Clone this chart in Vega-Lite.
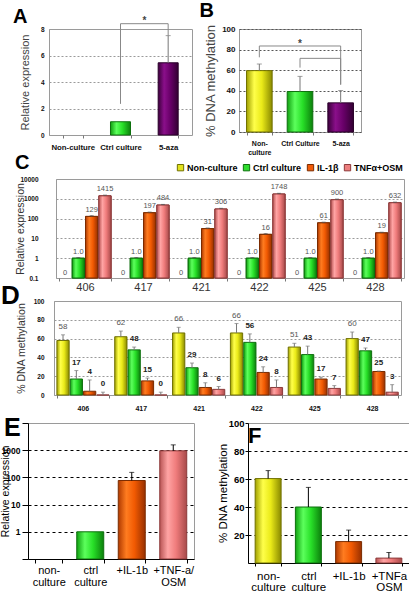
{
"$schema": "https://vega.github.io/schema/vega-lite/v6.json",
"padding": 0,
"background": "white",
"spacing": -11,
"resolve": {"scale": {"fill": "independent", "stroke": "independent"}},
"config": {
 "font": "Liberation Sans",
 "view": {"stroke": "#9a9a9a", "strokeWidth": 1},
 "axis": {"labelFont": "Liberation Sans", "titleFont": "Liberation Sans", "titleFontWeight": "normal", "labelColor": "#111", "titleColor": "#333", "domainColor": "#9a9a9a", "tickColor": "#777", "gridColor": "#9a9a9a", "gridDash": [2, 2], "gridOpacity": 1, "labelOverlap": false, "tickCount": 20},
 "title": {"font": "Liberation Sans", "fontWeight": "bold", "anchor": "start", "frame": "group", "color": "#000"},
 "legend": {"labelFont": "Liberation Sans"}
},
"datasets": {
 "none": [],
 "a": [{"g": "Non-culture", "v": 0}, {"g": "Ctrl culture", "v": 1}, {"g": "5-aza", "v": 5.45, "e": 7.5}],
 "aBracket": [{"g": "Ctrl culture", "y": 2.35, "o": 1}, {"g": "Ctrl culture", "y": 8.4, "o": 2}, {"g": "5-aza", "y": 8.4, "o": 3}, {"g": "5-aza", "y": 7.5, "o": 4}],
 "aStar": [{"g": "Ctrl culture", "y": 8.6, "t": "*"}],
 "b": [{"g": "Non-culture", "v": 59.6, "e": 66}, {"g": "Ctrl Culture", "v": 39.3, "e": 54}, {"g": "5-aza", "v": 28.3, "e": 40.3}],
 "bBracket": [
  {"k": "outer", "g": "Non-culture", "y": 72.5, "o": 1}, {"k": "outer", "g": "Non-culture", "y": 83.5, "o": 2}, {"k": "outer", "g": "5-aza", "y": 83.5, "o": 3}, {"k": "outer", "g": "5-aza", "y": 46, "o": 4},
  {"k": "inner", "g": "Ctrl Culture", "y": 62.5, "o": 1}, {"k": "inner", "g": "Ctrl Culture", "y": 71.5, "o": 2}, {"k": "inner", "g": "5-aza", "y": 71.5, "o": 3}, {"k": "inner", "g": "5-aza", "y": 46, "o": 4}
 ],
 "bStar": [{"g": "Ctrl Culture", "y": 85, "t": "*"}],
 "c": [
  {"s": "406", "t": "Non-culture", "v": 0, "lab": "0"}, {"s": "406", "t": "Ctrl culture", "v": 1, "e": 1.08, "lab": "1.0"}, {"s": "406", "t": "IL-1β", "v": 129, "e": 140, "lab": "129"}, {"s": "406", "t": "TNFα+OSM", "v": 1415, "e": 1530, "lab": "1415"},
  {"s": "417", "t": "Non-culture", "v": 0, "lab": "0"}, {"s": "417", "t": "Ctrl culture", "v": 1, "e": 1.08, "lab": "1.0"}, {"s": "417", "t": "IL-1β", "v": 197, "e": 213, "lab": "197"}, {"s": "417", "t": "TNFα+OSM", "v": 484, "e": 520, "lab": "484"},
  {"s": "421", "t": "Non-culture", "v": 0, "lab": "0"}, {"s": "421", "t": "Ctrl culture", "v": 1, "e": 1.08, "lab": "1.0"}, {"s": "421", "t": "IL-1β", "v": 31, "e": 33.5, "lab": "31"}, {"s": "421", "t": "TNFα+OSM", "v": 306, "e": 330, "lab": "306"},
  {"s": "422", "t": "Non-culture", "v": 0, "lab": "0"}, {"s": "422", "t": "Ctrl culture", "v": 1, "e": 1.08, "lab": "1.0"}, {"s": "422", "t": "IL-1β", "v": 16, "e": 17.3, "lab": "16"}, {"s": "422", "t": "TNFα+OSM", "v": 1748, "e": 1890, "lab": "1748"},
  {"s": "425", "t": "Non-culture", "v": 0, "lab": "0"}, {"s": "425", "t": "Ctrl culture", "v": 1, "e": 1.08, "lab": "1.0"}, {"s": "425", "t": "IL-1β", "v": 61, "e": 66, "lab": "61"}, {"s": "425", "t": "TNFα+OSM", "v": 900, "e": 970, "lab": "900"},
  {"s": "428", "t": "Non-culture", "v": 0, "lab": "0"}, {"s": "428", "t": "Ctrl culture", "v": 1, "e": 1.08, "lab": "1.0"}, {"s": "428", "t": "IL-1β", "v": 19, "e": 20.5, "lab": "19"}, {"s": "428", "t": "TNFα+OSM", "v": 632, "e": 680, "lab": "632"}
 ],
 "d": [
  {"s": "406", "t": "Non-culture", "v": 58, "e": 64}, {"s": "406", "t": "Ctrl culture", "v": 17, "e": 26}, {"s": "406", "t": "IL-1β", "v": 4, "e": 16}, {"s": "406", "t": "TNFα+OSM", "v": 0, "e": 3},
  {"s": "417", "t": "Non-culture", "v": 62, "e": 68}, {"s": "417", "t": "Ctrl culture", "v": 48, "e": 51}, {"s": "417", "t": "IL-1β", "v": 15, "e": 18}, {"s": "417", "t": "TNFα+OSM", "v": 0, "e": 3},
  {"s": "421", "t": "Non-culture", "v": 66, "e": 72}, {"s": "421", "t": "Ctrl culture", "v": 29, "e": 34}, {"s": "421", "t": "IL-1β", "v": 8, "e": 13}, {"s": "421", "t": "TNFα+OSM", "v": 6, "e": 9},
  {"s": "422", "t": "Non-culture", "v": 66, "e": 76}, {"s": "422", "t": "Ctrl culture", "v": 56, "e": 65}, {"s": "422", "t": "IL-1β", "v": 24, "e": 30}, {"s": "422", "t": "TNFα+OSM", "v": 8, "e": 16},
  {"s": "425", "t": "Non-culture", "v": 51, "e": 55}, {"s": "425", "t": "Ctrl culture", "v": 43, "e": 52}, {"s": "425", "t": "IL-1β", "v": 17, "e": 19}, {"s": "425", "t": "TNFα+OSM", "v": 7, "e": 10},
  {"s": "428", "t": "Non-culture", "v": 60, "e": 67}, {"s": "428", "t": "Ctrl culture", "v": 47, "e": 50}, {"s": "428", "t": "IL-1β", "v": 25, "e": 25.5}, {"s": "428", "t": "TNFα+OSM", "v": 3, "e": 11}
 ],
 "e": [{"g": "non-culture", "v": 0}, {"g": "ctrl culture", "v": 1}, {"g": "+IL-1b", "v": 77, "e": 153}, {"g": "+TNF-a/OSM", "v": 950, "e": 1570}],
 "f": [{"g": "non-culture", "v": 60.3, "e": 66}, {"g": "ctrl culture", "v": 40, "e": 54}, {"g": "+IL-1b", "v": 15.3, "e": 23.5}, {"g": "+TNFa OSM", "v": 3.5, "e": 7.5}]
},
"vconcat": [
 {"bounds": "flush", "spacing": 47, "resolve": {"scale": {"fill": "independent", "stroke": "independent"}}, "hconcat": [
  {"width": 1, "height": 1, "view": {"stroke": null}, "data": {"name": "none"}, "mark": "point"},
  {
   "width": 143, "height": 106,
   "title": {"text": "A", "fontSize": 20, "dx": -36, "offset": -10.45},
   "encoding": {"x": {"field": "g", "type": "nominal", "title": null, "scale": {"domain": ["Non-culture", "Ctrl culture", "5-aza"], "paddingInner": 0.58, "paddingOuter": 0.29}, "axis": {"labelAngle": 0, "labelFontSize": 7.8, "labelFontWeight": "bold", "tickBand": "extent", "tickSize": 3, "labelPadding": 5, "domain": false}}},
   "layer": [
    {"data": {"name": "a"}, "transform": [{"filter": "datum.v > 0"}], "mark": {"type": "bar", "strokeWidth": 1},
     "encoding": {
      "y": {"field": "v", "type": "quantitative", "title": "Relative expression", "scale": {"domain": [0, 8]}, "axis": {"values": [0, 2, 4, 6, 8], "format": "d", "labelFontSize": 6.5, "labelFontWeight": "bold", "ticks": false, "labelPadding": 5, "domain": false, "titleFontSize": 11, "titlePadding": 10, "titleColor": "#444"}},
      "fill": {"condition": [
        {"test": "datum.g == 'Ctrl culture'", "value": {"gradient": "linear", "x1": 0, "x2": 1, "y1": 0, "y2": 0, "stops": [{"offset": 0, "color": "#10a010"}, {"offset": 0.3, "color": "#5cff5c"}, {"offset": 0.6, "color": "#28e028"}, {"offset": 1, "color": "#0c800c"}]}},
        {"test": "datum.g == '5-aza'", "value": {"gradient": "linear", "x1": 0, "x2": 1, "y1": 0, "y2": 0, "stops": [{"offset": 0, "color": "#3c003c"}, {"offset": 0.3, "color": "#8a0f8a"}, {"offset": 0.6, "color": "#690069"}, {"offset": 1, "color": "#320032"}]}}
       ], "value": "#e2e21e"},
      "stroke": {"field": "g", "type": "nominal", "scale": {"domain": ["Non-culture", "Ctrl culture", "5-aza"], "range": ["#707000", "#0e700e", "#2a002a"]}, "legend": null}
     }},
    {"data": {"name": "a"}, "transform": [{"filter": "isValid(datum.e)"}], "mark": {"type": "rule", "color": "#777"}, "encoding": {"y": {"field": "v", "type": "quantitative", "title": "Relative expression"}, "y2": {"field": "e"}}},
    {"data": {"name": "a"}, "transform": [{"filter": "isValid(datum.e)"}], "mark": {"type": "tick", "color": "#777", "size": 5, "thickness": 1}, "encoding": {"y": {"field": "e", "type": "quantitative", "title": "Relative expression"}}},
    {"data": {"name": "aBracket"}, "mark": {"type": "line", "color": "#888", "strokeWidth": 1}, "encoding": {"y": {"field": "y", "type": "quantitative", "title": "Relative expression"}, "order": {"field": "o", "type": "quantitative"}}},
    {"data": {"name": "aStar"}, "mark": {"type": "text", "baseline": "middle", "fontSize": 10, "fontWeight": "bold", "color": "#444"}, "encoding": {"x": {"field": "g", "type": "nominal", "title": null, "bandPosition": 1.7}, "y": {"field": "y", "type": "quantitative", "title": "Relative expression"}, "text": {"field": "t"}}}
   ]
  },
  {
   "width": 122, "height": 103,
   "title": {"text": "B", "fontSize": 20, "dx": -39.5, "offset": 3},
   "encoding": {"x": {"field": "g", "type": "nominal", "title": "\u200b", "scale": {"domain": ["Non-culture", "Ctrl Culture", "5-aza"], "paddingInner": 0.37, "paddingOuter": 0.185}, "axis": {"titleFontSize": 7, "titlePadding": 0, "labelAngle": 0, "labelFontSize": 7, "labelFontWeight": "bold", "labelExpr": "datum.label == 'Non-culture' ? ['Non-', 'culture'] : datum.label", "labelLineHeight": 9, "tickBand": "extent", "tickSize": 3, "labelPadding": 4.5, "domain": false}}},
   "layer": [
    {"data": {"name": "b"}, "mark": {"type": "bar", "strokeWidth": 1},
     "encoding": {
      "y": {"field": "v", "type": "quantitative", "title": "% DNA methylation", "scale": {"domain": [0, 100]}, "axis": {"values": [0, 20, 40, 60, 80, 100], "format": "d", "labelFontSize": 8, "labelFontWeight": "bold", "ticks": false, "labelPadding": 4, "domain": false, "titleFontSize": 13, "titlePadding": 3.7, "titleColor": "#444", "gridColor": "#555"}},
      "fill": {"condition": [
        {"test": "datum.g == 'Non-culture'", "value": {"gradient": "linear", "x1": 0, "x2": 1, "y1": 0, "y2": 0, "stops": [{"offset": 0, "color": "#a0a000"}, {"offset": 0.3, "color": "#ffff4a"}, {"offset": 0.6, "color": "#eaea18"}, {"offset": 1, "color": "#8a8a00"}]}},
        {"test": "datum.g == 'Ctrl Culture'", "value": {"gradient": "linear", "x1": 0, "x2": 1, "y1": 0, "y2": 0, "stops": [{"offset": 0, "color": "#10a010"}, {"offset": 0.3, "color": "#5cff5c"}, {"offset": 0.6, "color": "#28e028"}, {"offset": 1, "color": "#0c800c"}]}}
       ], "value": {"gradient": "linear", "x1": 0, "x2": 1, "y1": 0, "y2": 0, "stops": [{"offset": 0, "color": "#3c003c"}, {"offset": 0.3, "color": "#8a0f8a"}, {"offset": 0.6, "color": "#690069"}, {"offset": 1, "color": "#320032"}]}},
      "stroke": {"field": "g", "type": "nominal", "scale": {"domain": ["Non-culture", "Ctrl Culture", "5-aza"], "range": ["#707000", "#0e700e", "#2a002a"]}, "legend": null}
     }},
    {"data": {"name": "b"}, "mark": {"type": "rule", "color": "#777"}, "encoding": {"y": {"field": "v", "type": "quantitative", "title": "% DNA methylation"}, "y2": {"field": "e"}}},
    {"data": {"name": "b"}, "mark": {"type": "tick", "color": "#777", "size": 5, "thickness": 1}, "encoding": {"y": {"field": "e", "type": "quantitative", "title": "% DNA methylation"}}},
    {"data": {"name": "bBracket"}, "mark": {"type": "line", "color": "#888", "strokeWidth": 1}, "encoding": {"y": {"field": "y", "type": "quantitative", "title": "% DNA methylation"}, "detail": {"field": "k"}, "order": {"field": "o", "type": "quantitative"}}},
    {"data": {"name": "bStar"}, "mark": {"type": "text", "baseline": "middle", "fontSize": 10, "fontWeight": "bold", "color": "#444"}, "encoding": {"y": {"field": "y", "type": "quantitative", "title": "% DNA methylation"}, "text": {"field": "t"}}}
   ]
  }
 ]},
 {"bounds": "flush", "spacing": 54, "resolve": {"scale": {"fill": "independent", "stroke": "independent"}}, "hconcat": [
  {"width": 1, "height": 1, "view": {"stroke": null}, "data": {"name": "none"}, "mark": "point"},
  {
   "width": 348, "height": 99,
   "title": {"text": "C", "fontSize": 20, "dx": -41, "offset": -9.5},
   "encoding": {
    "x": {"field": "s", "type": "nominal", "title": null, "scale": {"domain": ["406", "417", "421", "422", "425", "428"], "paddingInner": 0.1, "paddingOuter": 0.05}, "axis": {"labelAngle": 0, "labelFontSize": 11, "labelColor": "#333", "tickBand": "extent", "tickSize": 3, "labelPadding": 0, "domain": false}},
    "xOffset": {"field": "t", "type": "nominal", "scale": {"domain": ["Non-culture", "Ctrl culture", "IL-1β", "TNFα+OSM"], "paddingInner": 0.08}}
   },
   "layer": [
    {"data": {"name": "c"}, "transform": [{"filter": "datum.v > 0"}], "mark": {"type": "bar", "strokeWidth": 1},
     "encoding": {
      "y": {"field": "v", "type": "quantitative", "title": "Relative expression", "scale": {"type": "log", "domain": [0.1, 10000]}, "axis": {"values": [0.1, 1, 10, 100, 1000, 10000], "format": "~g", "labelFontSize": 6.5, "labelFontWeight": "bold", "ticks": false, "labelPadding": 18, "domain": false, "titleFontSize": 10.5, "titlePadding": -6, "titleColor": "#333"}},
      "y2": {"datum": 0.1},
      "fill": {"field": "t", "type": "nominal", "scale": {"domain": ["Non-culture", "Ctrl culture", "IL-1β", "TNFα+OSM"], "range": ["#e2e21e", "#2fdc2f", "#f05a08", "#ec7e7e"]},
       "legend": {"title": null, "orient": "none", "legendX": 120, "legendY": -16, "direction": "horizontal", "columns": 4, "symbolType": "square", "symbolSize": 40, "symbolStrokeColor": "#333", "symbolStrokeWidth": 1, "labelFontSize": 9, "labelFontWeight": "bold", "labelColor": "#000", "columnPadding": 3, "labelOffset": 2, "padding": 0}},
      "stroke": {"field": "t", "type": "nominal", "scale": {"domain": ["Non-culture", "Ctrl culture", "IL-1β", "TNFα+OSM"], "range": ["#707000", "#0e700e", "#7a2c00", "#8c3a3a"]}, "legend": null}
     }},
    {"data": {"name": "c"}, "transform": [{"filter": "datum.v > 0"}], "mark": {"type": "bar", "strokeWidth": 1},
     "encoding": {
      "y": {"field": "v", "type": "quantitative", "title": "Relative expression"},
      "y2": {"datum": 0.1},
      "fill": {"condition": [
        {"test": "datum.t == 'Ctrl culture'", "value": {"gradient": "linear", "x1": 0, "x2": 1, "y1": 0, "y2": 0, "stops": [{"offset": 0, "color": "#10a010"}, {"offset": 0.3, "color": "#5cff5c"}, {"offset": 0.6, "color": "#28e028"}, {"offset": 1, "color": "#0c800c"}]}},
        {"test": "datum.t == 'IL-1β'", "value": {"gradient": "linear", "x1": 0, "x2": 1, "y1": 0, "y2": 0, "stops": [{"offset": 0, "color": "#b03a00"}, {"offset": 0.3, "color": "#ff7c20"}, {"offset": 0.6, "color": "#f25a02"}, {"offset": 1, "color": "#983000"}]}}
       ], "value": {"gradient": "linear", "x1": 0, "x2": 1, "y1": 0, "y2": 0, "stops": [{"offset": 0, "color": "#b85454"}, {"offset": 0.3, "color": "#ffa4a4"}, {"offset": 0.6, "color": "#f07c7c"}, {"offset": 1, "color": "#a84a4a"}]}},
      "stroke": {"field": "t", "type": "nominal", "legend": null}
     }},
    {"data": {"name": "c"}, "transform": [{"filter": "isValid(datum.e)"}], "mark": {"type": "rule", "color": "#555"}, "encoding": {"y": {"field": "v", "type": "quantitative", "title": "Relative expression"}, "y2": {"field": "e"}}},
    {"data": {"name": "c"}, "transform": [{"filter": "isValid(datum.e)"}], "mark": {"type": "tick", "color": "#555", "size": 4, "thickness": 1}, "encoding": {"y": {"field": "e", "type": "quantitative", "title": "Relative expression"}}},
    {"data": {"name": "c"}, "transform": [{"filter": "datum.v > 0"}], "mark": {"type": "text", "baseline": "bottom", "dy": -2, "fontSize": 7.5, "color": "#555"}, "encoding": {"y": {"field": "e", "type": "quantitative", "title": "Relative expression"}, "text": {"field": "lab"}}},
    {"data": {"name": "c"}, "transform": [{"filter": "datum.v == 0"}], "mark": {"type": "text", "baseline": "bottom", "dy": -1, "fontSize": 7.5, "color": "#555"}, "encoding": {"y": {"datum": 0.1, "type": "quantitative", "title": "Relative expression"}, "text": {"field": "lab"}}}
   ]
  }
 ]},
 {"bounds": "flush", "spacing": 52, "resolve": {"scale": {"fill": "independent", "stroke": "independent"}}, "hconcat": [
  {"width": 1, "height": 1, "view": {"stroke": null}, "data": {"name": "none"}, "mark": "point"},
  {
   "width": 347, "height": 94,
   "title": {"text": "D", "fontSize": 26, "dx": -53, "offset": -11.25},
   "encoding": {
    "x": {"field": "s", "type": "nominal", "title": "\u200b", "scale": {"domain": ["406", "417", "421", "422", "425", "428"], "paddingInner": 0.1, "paddingOuter": 0.05}, "axis": {"titleFontSize": 10, "titlePadding": 1, "labelAngle": 0, "labelFontSize": 7, "labelFontWeight": "bold", "tickBand": "extent", "tickSize": 3, "labelPadding": 6, "domain": false}},
    "xOffset": {"field": "t", "type": "nominal", "scale": {"domain": ["Non-culture", "Ctrl culture", "IL-1β", "TNFα+OSM"], "paddingInner": 0.08}}
   },
   "layer": [
    {"data": {"name": "d"}, "mark": {"type": "bar", "strokeWidth": 1},
     "encoding": {
      "y": {"field": "v", "type": "quantitative", "title": "% DNA methylation", "scale": {"domain": [0, 100]}, "axis": {"values": [0, 20, 40, 60, 80, 100], "format": "d", "labelFontSize": 6.5, "labelFontWeight": "bold", "ticks": false, "labelPadding": 10, "domain": false, "titleFontSize": 10.5, "titlePadding": 7, "titleColor": "#333"}},
      "fill": {"condition": [
        {"test": "datum.t == 'Non-culture'", "value": {"gradient": "linear", "x1": 0, "x2": 1, "y1": 0, "y2": 0, "stops": [{"offset": 0, "color": "#a0a000"}, {"offset": 0.3, "color": "#ffff4a"}, {"offset": 0.6, "color": "#eaea18"}, {"offset": 1, "color": "#8a8a00"}]}},
        {"test": "datum.t == 'Ctrl culture'", "value": {"gradient": "linear", "x1": 0, "x2": 1, "y1": 0, "y2": 0, "stops": [{"offset": 0, "color": "#10a010"}, {"offset": 0.3, "color": "#5cff5c"}, {"offset": 0.6, "color": "#28e028"}, {"offset": 1, "color": "#0c800c"}]}},
        {"test": "datum.t == 'IL-1β'", "value": {"gradient": "linear", "x1": 0, "x2": 1, "y1": 0, "y2": 0, "stops": [{"offset": 0, "color": "#b03a00"}, {"offset": 0.3, "color": "#ff7c20"}, {"offset": 0.6, "color": "#f25a02"}, {"offset": 1, "color": "#983000"}]}}
       ], "value": {"gradient": "linear", "x1": 0, "x2": 1, "y1": 0, "y2": 0, "stops": [{"offset": 0, "color": "#b85454"}, {"offset": 0.3, "color": "#ffa4a4"}, {"offset": 0.6, "color": "#f07c7c"}, {"offset": 1, "color": "#a84a4a"}]}},
      "stroke": {"field": "t", "type": "nominal", "scale": {"domain": ["Non-culture", "Ctrl culture", "IL-1β", "TNFα+OSM"], "range": ["#707000", "#0e700e", "#7a2c00", "#8c3a3a"]}, "legend": null}
     }},
    {"data": {"name": "d"}, "mark": {"type": "rule", "color": "#777"}, "encoding": {"y": {"field": "v", "type": "quantitative", "title": "% DNA methylation"}, "y2": {"field": "e"}}},
    {"data": {"name": "d"}, "mark": {"type": "tick", "color": "#777", "size": 4, "thickness": 1}, "encoding": {"y": {"field": "e", "type": "quantitative", "title": "% DNA methylation"}}},
    {"data": {"name": "d"}, "transform": [{"filter": "datum.t == 'Non-culture'"}], "mark": {"type": "text", "baseline": "bottom", "dy": -4, "fontSize": 8, "color": "#555"}, "encoding": {"y": {"field": "e", "type": "quantitative", "title": "% DNA methylation"}, "text": {"field": "v", "type": "quantitative"}}},
    {"data": {"name": "d"}, "transform": [{"filter": "datum.t != 'Non-culture'"}], "mark": {"type": "text", "baseline": "bottom", "dy": -4, "fontSize": 8, "fontWeight": "bold", "color": "#222"}, "encoding": {"y": {"field": "e", "type": "quantitative", "title": "% DNA methylation"}, "text": {"field": "v", "type": "quantitative"}}}
   ]
  }
 ]},
 {"bounds": "flush", "spacing": 26, "resolve": {"scale": {"fill": "independent", "stroke": "independent"}}, "hconcat": [
  {"width": 1, "height": 1, "view": {"stroke": null}, "data": {"name": "none"}, "mark": "point"},
  {"bounds": "flush", "spacing": 54, "resolve": {"scale": {"fill": "independent", "stroke": "independent"}}, "hconcat": [
   {
    "width": 166, "height": 136,
    "title": {"text": "E", "fontSize": 25, "dx": -24, "offset": -22},
    "encoding": {"x": {"field": "g", "type": "nominal", "title": null, "scale": {"domain": ["non-culture", "ctrl culture", "+IL-1b", "+TNF-a/OSM"], "paddingInner": 0.35, "paddingOuter": 0.175}, "axis": {"labelAngle": 0, "labelFontSize": 11, "labelColor": "#000", "labelExpr": "datum.label == 'non-culture' ? ['non-', 'culture'] : datum.label == 'ctrl culture' ? ['ctrl', 'culture'] : datum.label == '+TNF-a/OSM' ? ['+TNF-a/', 'OSM'] : datum.label", "labelLineHeight": 12, "tickBand": "extent", "tickSize": 4, "labelPadding": 1.5, "domainColor": "#000", "tickColor": "#000"}}},
    "layer": [
     {"data": {"name": "e"}, "transform": [{"filter": "datum.v > 0"}], "mark": {"type": "bar", "strokeWidth": 1},
      "encoding": {
       "y": {"field": "v", "type": "quantitative", "title": "Relative expression", "scale": {"type": "log", "domain": [0.1, 10000]}, "axis": {"values": [0.1, 1, 10, 100, 1000, 10000], "format": "~g", "labelExpr": "datum.value >= 1 && datum.value <= 1000 ? datum.label : ''", "labelFontSize": 8.5, "labelFontWeight": "bold", "labelColor": "#000", "tickSize": 6, "tickColor": "#000", "labelPadding": 2, "domainColor": "#000", "gridColor": {"condition": {"test": "datum.value < 1 || datum.value > 1000", "value": "transparent"}, "value": "#000"}, "gridDash": [3, 3], "titleFontSize": 10.5, "titlePadding": -9.5, "titleColor": "#000"}},
       "y2": {"datum": 0.1},
       "fill": {"condition": [
         {"test": "datum.g == 'ctrl culture'", "value": {"gradient": "linear", "x1": 0, "x2": 1, "y1": 0, "y2": 0, "stops": [{"offset": 0, "color": "#10a010"}, {"offset": 0.3, "color": "#5cff5c"}, {"offset": 0.6, "color": "#28e028"}, {"offset": 1, "color": "#0c800c"}]}},
         {"test": "datum.g == '+IL-1b'", "value": {"gradient": "linear", "x1": 0, "x2": 1, "y1": 0, "y2": 0, "stops": [{"offset": 0, "color": "#b03a00"}, {"offset": 0.3, "color": "#ff7c20"}, {"offset": 0.6, "color": "#f25a02"}, {"offset": 1, "color": "#983000"}]}}
        ], "value": {"gradient": "linear", "x1": 0, "x2": 1, "y1": 0, "y2": 0, "stops": [{"offset": 0, "color": "#b85454"}, {"offset": 0.3, "color": "#ffa4a4"}, {"offset": 0.6, "color": "#f07c7c"}, {"offset": 1, "color": "#a84a4a"}]}},
       "stroke": {"field": "g", "type": "nominal", "scale": {"domain": ["non-culture", "ctrl culture", "+IL-1b", "+TNF-a/OSM"], "range": ["#707000", "#0e700e", "#7a2c00", "#8c3a3a"]}, "legend": null}
      }},
     {"data": {"name": "e"}, "transform": [{"filter": "isValid(datum.e)"}], "mark": {"type": "rule", "color": "#000"}, "encoding": {"y": {"field": "v", "type": "quantitative", "title": "Relative expression"}, "y2": {"field": "e"}}},
     {"data": {"name": "e"}, "transform": [{"filter": "isValid(datum.e)"}], "mark": {"type": "tick", "color": "#000", "size": 5, "thickness": 1}, "encoding": {"y": {"field": "e", "type": "quantitative", "title": "Relative expression"}}}
    ]
   },
   {
    "width": 161, "height": 140,
    "title": {"text": "F", "fontSize": 22, "dx": 0, "offset": -29.65},
    "encoding": {"x": {"field": "g", "type": "nominal", "title": null, "scale": {"domain": ["non-culture", "ctrl culture", "+IL-1b", "+TNFa OSM"], "paddingInner": 0.355, "paddingOuter": 0.1775}, "axis": {"labelAngle": 0, "labelFontSize": 11.5, "labelColor": "#000", "labelExpr": "datum.label == 'non-culture' ? ['non-', 'culture'] : datum.label == 'ctrl culture' ? ['ctrl', 'culture'] : datum.label == '+TNFa OSM' ? ['+TNFa', 'OSM'] : datum.label", "labelLineHeight": 11.5, "tickBand": "extent", "tickSize": 3, "labelPadding": 4, "domainColor": "#000", "tickColor": "#000"}}},
    "layer": [
     {"data": {"name": "f"}, "mark": {"type": "bar", "strokeWidth": 1},
      "encoding": {
       "y": {"field": "v", "type": "quantitative", "title": "% DNA methylation", "scale": {"domain": [0, 100]}, "axis": {"values": [20, 40, 60, 80, 100], "format": "d", "labelFontSize": 9.5, "labelFontWeight": "bold", "labelColor": "#000", "tickSize": 3, "tickColor": "#000", "labelPadding": 1, "domainColor": "#000", "gridColor": {"condition": {"test": "datum.value >= 100", "value": "transparent"}, "value": "#000"}, "gridDash": [3, 3], "titleFontSize": 11.5, "titlePadding": 0, "titleColor": "#000"}},
       "fill": {"condition": [
         {"test": "datum.g == 'non-culture'", "value": {"gradient": "linear", "x1": 0, "x2": 1, "y1": 0, "y2": 0, "stops": [{"offset": 0, "color": "#a0a000"}, {"offset": 0.3, "color": "#ffff4a"}, {"offset": 0.6, "color": "#eaea18"}, {"offset": 1, "color": "#8a8a00"}]}},
         {"test": "datum.g == 'ctrl culture'", "value": {"gradient": "linear", "x1": 0, "x2": 1, "y1": 0, "y2": 0, "stops": [{"offset": 0, "color": "#10a010"}, {"offset": 0.3, "color": "#5cff5c"}, {"offset": 0.6, "color": "#28e028"}, {"offset": 1, "color": "#0c800c"}]}},
         {"test": "datum.g == '+IL-1b'", "value": {"gradient": "linear", "x1": 0, "x2": 1, "y1": 0, "y2": 0, "stops": [{"offset": 0, "color": "#b03a00"}, {"offset": 0.3, "color": "#ff7c20"}, {"offset": 0.6, "color": "#f25a02"}, {"offset": 1, "color": "#983000"}]}}
        ], "value": {"gradient": "linear", "x1": 0, "x2": 1, "y1": 0, "y2": 0, "stops": [{"offset": 0, "color": "#b85454"}, {"offset": 0.3, "color": "#ffa4a4"}, {"offset": 0.6, "color": "#f07c7c"}, {"offset": 1, "color": "#a84a4a"}]}},
       "stroke": {"field": "g", "type": "nominal", "scale": {"domain": ["non-culture", "ctrl culture", "+IL-1b", "+TNFa OSM"], "range": ["#707000", "#0e700e", "#7a2c00", "#8c3a3a"]}, "legend": null}
      }},
     {"data": {"name": "f"}, "mark": {"type": "rule", "color": "#000"}, "encoding": {"y": {"field": "v", "type": "quantitative", "title": "% DNA methylation"}, "y2": {"field": "e"}}},
     {"data": {"name": "f"}, "mark": {"type": "tick", "color": "#000", "size": 5, "thickness": 1}, "encoding": {"y": {"field": "e", "type": "quantitative", "title": "% DNA methylation"}}}
    ]
   }
  ]}
 ]}
]
}
